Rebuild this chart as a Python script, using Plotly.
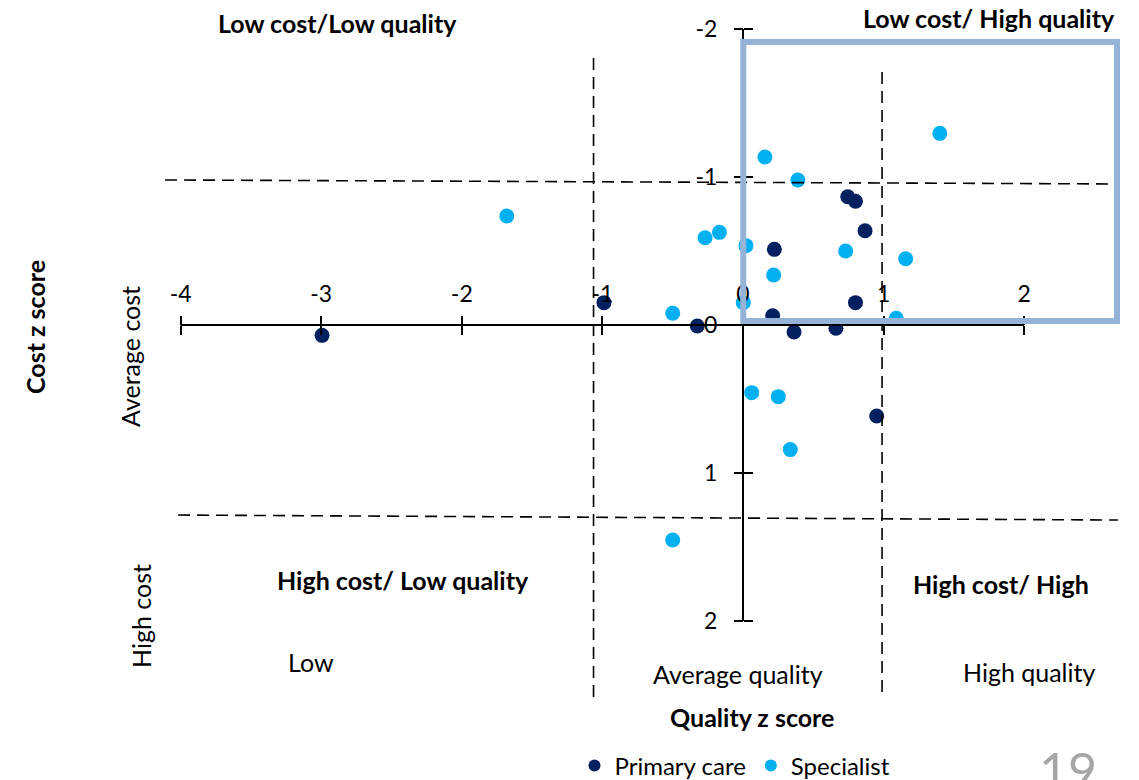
import plotly.graph_objects as go

# Quality (x) and cost (y) z scores per practice
primary_quality = [0.745, 0.80, 0.868, 0.223, -0.989, -0.325, 0.211, 0.363, 0.661, 0.80, 0.951, -2.994]
primary_cost = [-0.867, -0.836, -0.637, -0.511, -0.151, 0.007, -0.063, 0.047, 0.022, -0.151, 0.615, 0.07]

specialist_quality = [0.156, 0.39, -0.27, -0.168, 0.021, 0.73, 0.218, -0.50, 0.002, 1.09, 1.40,
                      1.157, -1.68, 0.062, 0.251, 0.336, -0.50]
specialist_cost = [-1.135, -0.98, -0.59, -0.626, -0.536, -0.50, -0.338, -0.079, -0.151, -0.045, -1.295,
                   -0.448, -0.736, 0.457, 0.484, 0.842, 1.453]

x_ticks = [-4, -3, -2, -1, 0, 1, 2]
x_tick_text = ["-4", "-3", "-2", "-1", "0", "1", "2"]
y_ticks = [-2, -1, 0, 1, 2]
y_tick_text = ["-2", "-1", "0", "1", "2"]

NAVY = "#002060"
CYAN = "#00B0F0"
FONT = "Lato"

W, H = 1139, 780
L, R, T, B = 160, 1125, 20, 705
XR = [(L - 743) / 140.6, (R - 743) / 140.6]
YR = [(B - 325) / 148, (T - 325) / 148]  # reversed: low cost at top

fig = go.Figure()
fig.add_trace(go.Scatter(x=primary_quality, y=primary_cost, mode="markers", name="Primary care",
                         marker=dict(color=NAVY, size=15)))
fig.add_trace(go.Scatter(x=specialist_quality, y=specialist_cost, mode="markers", name="Specialist",
                         marker=dict(color=CYAN, size=15)))
# helper trace so the second (tick-only) axis pair is drawn
fig.add_trace(go.Scatter(x=[None], y=[None], xaxis="x2", yaxis="y2", showlegend=False, hoverinfo="skip"))

xpos = (B - 325) / (B - T)
ypos = (743 - L) / (R - L)

TICKFONT = dict(family=FONT, size=23, color="black")
plain = dict(showgrid=False, zeroline=False, showline=False, tickcolor="black", tickwidth=2, ticklen=9)
fig.update_layout(
    width=W, height=H,
    margin=dict(l=L, r=W - R, t=T, b=H - B, autoexpand=False),
    paper_bgcolor="white", plot_bgcolor="white",
    font=dict(family=FONT, color="black"),
    xaxis=dict(range=XR, tickvals=x_ticks, ticktext=x_tick_text, ticks="outside", side="top",
               anchor="free", position=xpos, ticklabelstandoff=5, tickfont=TICKFONT, **plain),
    yaxis=dict(range=YR, tickvals=y_ticks, ticktext=y_tick_text, ticks="outside", side="left",
               anchor="free", position=ypos, ticklabelstandoff=12, tickfont=TICKFONT, **plain),
    xaxis2=dict(range=XR, tickvals=x_ticks, ticks="inside", side="top", anchor="free", position=xpos,
                overlaying="x", showticklabels=False, **plain),
    yaxis2=dict(range=YR, tickvals=y_ticks, ticks="inside", side="left", anchor="free", position=ypos,
                overlaying="y", showticklabels=False, **plain),
    showlegend=True,
    legend=dict(orientation="h", x=(735 - L) / (R - L), xanchor="center", y=(B - 766) / (B - T),
                yanchor="middle", font=dict(family=FONT, size=24, color="black"),
                itemsizing="constant", itemwidth=30, tracegroupgap=0),
)

# axis lines crossing at the origin
fig.add_shape(type="line", x0=x_ticks[0], x1=x_ticks[-1], y0=0, y1=0, line=dict(color="black", width=2))
fig.add_shape(type="line", x0=0, x1=0, y0=y_ticks[0], y1=y_ticks[-1], line=dict(color="black", width=2))

# quadrant dividers
dash = dict(color="black", width=1.6, dash="12px,7px")
fig.add_shape(type="line", x0=-4.111, y0=-0.980, x1=2.646, y1=-0.953, line=dash, layer="above")
fig.add_shape(type="line", x0=-4.018, y0=1.284, x1=2.667, y1=1.318, line=dash, layer="above")
fig.add_shape(type="line", x0=-1.063, y0=-1.804, x1=-1.063, y1=2.534, line=dash, layer="above")
fig.add_shape(type="line", x0=0.989, y0=-1.709, x1=0.989, y1=2.50, line=dash, layer="above")

# highlighted low cost / high quality region
fig.add_shape(type="rect", x0=0.002, x1=2.66, y0=-1.912, y1=-0.027,
              line=dict(color="#95B3D7", width=6), layer="above")


def page_label(text, px, py, size=25, angle=0, color="black"):
    # place text at a page pixel position, expressed as a fraction of the plot area
    fig.add_annotation(text=text, x=(px - L) / (R - L), y=(B - py) / (B - T), xref="paper", yref="paper",
                       showarrow=False, xanchor="center", yanchor="middle", textangle=angle,
                       font=dict(family=FONT, size=size, color=color))


page_label("<b>Low cost/Low quality</b>", 337, 23)
page_label("<b>Low cost/ High quality</b>", 989, 18)
page_label("<b>High cost/ Low quality</b>", 403, 580)
page_label("<b>High cost/ High</b>", 1001, 584)
page_label("Low", 311, 662)
page_label("Average quality", 738, 674)
page_label("High quality", 1029, 672)
page_label("<b>Quality z score</b>", 752, 717)
page_label("<b>Cost z score</b>", 35, 327, angle=-90)
page_label("Average cost", 130, 357, angle=-90)
page_label("High cost", 141, 616, angle=-90)
page_label("19", 1068, 770, size=50, color="#A6A6A6")

fig.write_html("out.html")
